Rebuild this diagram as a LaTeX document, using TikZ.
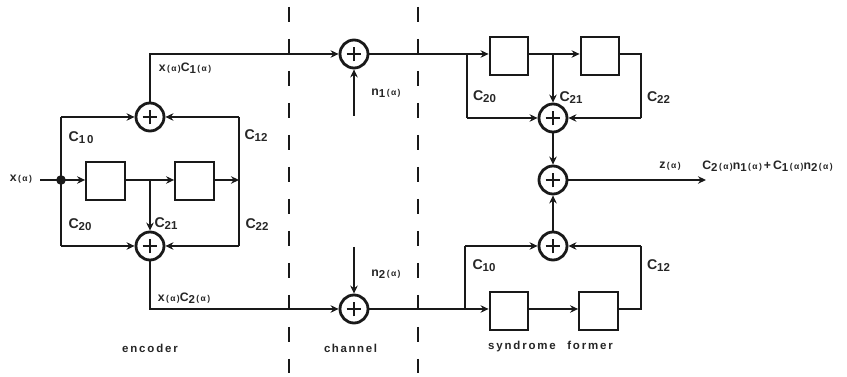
\documentclass[tikz,border=0pt]{standalone}
\usepackage{fontspec}
\setmainfont{Liberation Sans}
\usetikzlibrary{arrows.meta}
\newcommand{\sbx}[1]{\raisebox{-0.28ex}{\fontsize{8.6}{9}\selectfont #1}}
\newcommand{\arga}{{\fontsize{6.4}{7}\selectfont\bfseries\,(\,α\,)}}
\tikzset{
  x=0.75pt,y=-0.75pt,
  wire/.style={line width=1.6pt,black!90,line join=miter},
  arr/.style={wire,-{Stealth[length=6pt,width=5.6pt]}},
  cutline/.style={line width=1.4pt,black!90,dash pattern=on 11.2pt off 12.8pt,dash phase=0pt},
  delay/.style={draw=black!90,line width=1.6pt,fill=white,minimum width=29pt,minimum height=29pt,inner sep=0pt},
  adder/.style={circle,draw=black!90,line width=2.1pt,fill=white,minimum size=21pt,inner sep=0pt,
    path picture={\draw[black!90,line width=1pt] (path picture bounding box.center) ++(-5.6pt,0) -- ++(11.2pt,0)
      (path picture bounding box.center) ++(0,-5.6pt) -- ++(0,11.2pt);}},
  lab/.style={inner sep=0pt,font=\fontsize{10.6}{11}\selectfont\bfseries,text=black!85},
  small/.style={lab,font=\fontsize{9.2}{10}\selectfont\bfseries},
  captext/.style={lab,font=\fontsize{8.6}{10}\selectfont\bfseries,text=black!85},
}
\begin{document}
\begin{tikzpicture}
\useasboundingbox (0,0) rectangle (847,377);
\fill[white] (0,0) rectangle (847,377);
% dashed separators
\coordinate (d1t) at (289,7); \coordinate (d1b) at (289,373);
\coordinate (d2t) at (418,7); \coordinate (d2b) at (418,373);
\draw[cutline] (d1t) -- (d1b);
\draw[cutline] (d2t) -- (d2b);
% encoder
\node[adder] (ea1) at (150,117) {};
\node[adder] (ea2) at (150,246) {};
\node[delay] (eb1) at (105.5,181) {};
\node[delay] (eb2) at (194.5,181) {};
\coordinate (ein) at (40,180);
\coordinate (ej) at (61,180);
\coordinate (ejt) at (61,117);
\coordinate (ejb) at (61,246);
\coordinate (ert) at (239,117);
\coordinate (erm) at (239,180);
\coordinate (erb) at (239,246);
\coordinate (em) at (150,180);
\fill[black!90] (ej) circle (3.6pt);
\draw[wire] (ein) -- (ej);
\draw[arr] (ej) -- (eb1.west |- ej);
\draw[arr] (eb1.east |- em) -- (eb2.west |- em);
\draw[arr] (eb2.east |- erm) -- (erm);
\draw[arr] (ejt) -- (ea1);
\draw[wire] (ej) -- (ejt);
\draw[wire] (ej) -- (ejb);
\draw[arr] (ejb) -- (ea2);
\draw[wire] (ert) -- (erb);
\draw[arr] (ert) -- (ea1);
\draw[arr] (erb) -- (ea2);
\draw[arr] (em) -- (ea2);
% channel
\node[adder] (ca1) at (354,54) {};
\node[adder] (ca2) at (354,309) {};
\coordinate (n1s) at (354,116);
\coordinate (n2s) at (354,247);
\draw[arr] (ea1) |- (ca1);
\draw[arr] (ea2) |- (ca2);
\draw[arr] (n1s) -- (ca1);
\draw[arr] (n2s) -- (ca2);
% syndrome former
\node[delay] (sb1) at (509,56) {};
\node[delay] (sb2) at (600,56) {};
\node[delay] (sb3) at (509,311) {};
\node[delay] (sb4) at (598.5,311) {};
\node[adder] (sa1) at (553,118) {};
\node[adder] (sa2) at (553,180) {};
\node[adder] (sa3) at (553,246) {};
\coordinate (sjt) at (467,54);
\coordinate (sjtb) at (467,118);
\coordinate (sm) at (553,54);
\coordinate (srt) at (641,54);
\coordinate (srtb) at (641,118);
\coordinate (sjb) at (465,309);
\coordinate (sjbt) at (465,246);
\coordinate (srb) at (641,309);
\coordinate (srbt) at (641,246);
\coordinate (zout) at (706,180);
\draw[arr] (ca1) -- (sb1.west |- ca1);
\draw[arr] (sb1.east |- sm) -- (sb2.west |- sm);
\draw[wire] (sb2.east |- srt) -- (srt) -- (srtb);
\draw[arr] (srtb) -- (sa1);
\draw[arr] (sm) -- (sa1);
\draw[wire] (sjt) -- (sjtb);
\draw[arr] (sjtb) -- (sa1);
\draw[arr] (sa1) -- (sa2);
\draw[arr] (sa3) -- (sa2);
\draw[arr] (sa2) -- (zout);
\draw[arr] (ca2) -- (sb3.west |- ca2);
\draw[arr] (sb3.east |- srb) -- (sb4.west |- srb);
\draw[wire] (sb4.east |- srb) -- (srb) -- (srbt);
\draw[arr] (srbt) -- (sa3);
\draw[wire] (sjb) -- (sjbt);
\draw[arr] (sjbt) -- (sa3);
% labels
\node[small] (l1) at (21,179) {x\arga};
\node[lab] (l2) at (81,138) {C\sbx{1\,0}};
\node[lab] (l3) at (256,136) {C\sbx{12}};
\node[lab] (l4) at (80,225) {C\sbx{20}};
\node[lab] (l5) at (166,224) {C\sbx{21}};
\node[lab] (l6) at (257,225) {C\sbx{22}};
\node[small] (l7) at (185,68) {x\arga C\sbx{1}\arga};
\node[small] (l8) at (184,298) {x\arga C\sbx{2}\arga};
\node[small] (l9) at (386,93) {n\sbx{1}\arga};
\node[small] (l10) at (386,274) {n\sbx{2}\arga};
\node[lab] (l11) at (484.5,97) {C\sbx{20}};
\node[lab] (l12) at (571,98) {C\sbx{21}};
\node[lab] (l13) at (658.5,98) {C\sbx{22}};
\node[lab] (l14) at (484,266) {C\sbx{10}};
\node[lab] (l15) at (658.5,266) {C\sbx{12}};
\node[small] (l16) at (670,166) {z\arga};
\node[small] (l17) at (767.5,166) {C\sbx{2}\arga n\sbx{1}\arga\,+\,C\sbx{1}\arga n\sbx{2}\arga};
\node[captext] (l18) at (150,348) {\addfontfeature{LetterSpace=16}encoder};
\node[captext] (l19) at (350.5,348) {\addfontfeature{LetterSpace=14}channel};
\node[captext] (l20) at (550.5,347) {\addfontfeature{LetterSpace=16}syndrome\hspace{1em}former};
\end{tikzpicture}
\end{document}
